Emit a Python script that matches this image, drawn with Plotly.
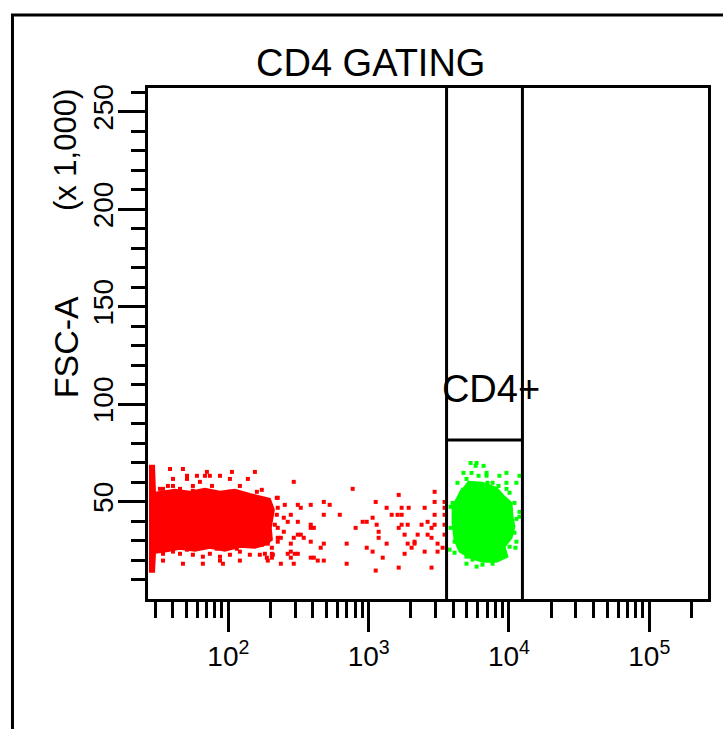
import plotly.graph_objects as go

# ---------------- data (x: log10 CD4 intensity, y: FSC-A in thousands) ----------------
# dense core outlines of the two populations
red_core_log = [1.434, 1.470, 1.477, 1.619, 1.726, 1.833, 1.940, 2.046, 2.153, 2.238, 2.295, 2.324,
                2.302, 2.310, 2.260, 2.189, 2.082, 1.975, 1.868, 1.762, 1.655, 1.548, 1.477, 1.470, 1.434]
red_core_fsc = [68.3, 68.3, 54.5, 56.0, 55.0, 56.5, 55.0, 56.0, 53.9, 52.4, 51.4, 45.8,
                36.5, 30.4, 27.8, 26.3, 26.8, 24.8, 26.3, 24.8, 25.8, 24.3, 23.7, 14.0, 14.0]

green_core_log = [3.704, 3.811, 3.911, 3.968, 4.018, 4.025, 4.039, 4.018, 3.968, 3.989, 3.911, 3.811,
                  3.719, 3.648, 3.612, 3.598, 3.598, 3.633, 3.669]
green_core_fsc = [60.1, 59.6, 57.0, 52.4, 49.3, 42.2, 37.1, 31.4, 26.8, 21.7, 19.1, 19.1,
                  21.2, 24.3, 30.4, 39.1, 47.3, 52.4, 57.0]

# individual events outside the dense cores
red_pts_log = [1.584, 1.676, 1.847, 1.705, 1.776, 1.833, 1.868, 1.940, 2.025, 2.189, 1.605, 1.705,
               1.797, 2.011, 2.139, 1.569, 1.605, 1.747, 1.883, 2.082, 1.534, 1.655, 1.747, 2.004,
               2.060, 2.203, 2.345, 1.512, 2.238,
               1.534, 1.605, 1.655, 1.747, 1.818, 1.868, 1.940, 2.011, 2.082, 2.153, 2.224, 2.274,
               1.534, 1.676, 1.818, 1.940, 1.961, 2.082, 2.281, 2.317, 2.238, 2.060, 1.918, 1.705,
               1.562, 1.491,
               2.466, 2.886, 2.352, 2.402, 2.495, 2.587, 2.680, 2.722, 2.352, 2.516, 3.050, 3.128,
               3.235, 3.285, 3.399, 3.470, 3.214, 3.470, 3.541, 3.541, 2.345, 2.445, 2.680, 2.794,
               3.028, 3.164, 3.206, 3.235, 3.470, 3.541, 2.395, 2.423, 2.495, 2.957, 2.986, 3.420,
               2.331, 2.587, 3.057, 3.235, 3.278, 3.377, 3.470, 3.541, 2.352, 2.587, 2.609, 2.907,
               3.214, 3.448, 2.395, 3.071, 2.495, 2.516, 3.256, 3.349, 3.420, 3.541, 2.352, 2.374,
               2.466, 2.537, 3.071, 3.448, 2.352, 2.587, 3.327, 2.281, 2.445, 2.680, 2.843, 3.128,
               3.278, 3.327, 3.491, 2.310, 2.658, 2.986, 3.306, 3.527, 2.445, 3.028, 3.399, 3.491,
               2.260, 2.310, 2.423, 2.473, 2.495, 3.256, 2.310, 2.445, 2.587, 2.609, 3.100, 2.637,
               2.680, 2.374, 2.466, 2.843, 3.214, 3.448, 3.050]
red_pts_fsc = [66.7, 66.7, 65.2, 63.2, 63.2, 63.2, 63.2, 63.2, 65.2, 65.2, 61.6, 61.6,
               60.1, 61.6, 61.6, 58.0, 58.0, 58.0, 58.0, 58.0, 56.5, 56.5, 55.5, 55.0,
               55.0, 55.0, 51.9, 56.5, 56.0,
               23.2, 24.3, 23.2, 22.7, 21.7, 23.2, 21.7, 22.7, 24.3, 22.7, 22.7, 21.2,
               19.7, 18.1, 18.1, 19.7, 18.1, 19.7, 19.7, 22.7, 27.8, 25.8, 25.8, 25.3,
               25.3, 27.8,
               60.1, 56.5, 51.9, 48.3, 48.3, 48.3, 49.8, 48.3, 46.8, 46.8, 49.8, 46.8,
               46.8, 46.8, 46.8, 55.0, 53.4, 49.8, 49.8, 46.8, 43.2, 43.2, 43.2, 43.2,
               41.7, 43.2, 43.2, 43.2, 43.2, 43.2, 41.7, 39.6, 39.6, 39.6, 39.6, 39.6,
               38.1, 38.1, 38.1, 38.1, 38.1, 38.1, 38.1, 38.1, 36.5, 36.5, 36.5, 36.5,
               36.5, 36.5, 34.5, 34.5, 33.0, 33.0, 33.0, 33.0, 33.0, 33.0, 31.4, 31.4,
               31.4, 31.4, 31.4, 31.4, 29.4, 29.4, 29.4, 28.4, 28.4, 28.4, 28.4, 28.4,
               28.4, 28.4, 28.4, 26.3, 26.3, 26.3, 26.3, 26.3, 24.3, 24.3, 24.3, 24.3,
               23.2, 23.2, 23.2, 23.2, 23.2, 23.2, 21.2, 21.2, 21.2, 21.2, 21.2, 19.7,
               19.7, 18.1, 18.1, 18.1, 16.1, 16.1, 14.6]

green_pts_log = [3.726, 3.769, 3.762, 3.819, 3.676, 3.733, 3.840, 3.783, 3.840, 3.982, 4.075, 3.697,
                 3.932, 3.633, 3.847, 3.883, 3.982, 4.053, 3.925, 3.662, 3.982, 4.004, 3.598, 3.584,
                 4.039, 4.075, 4.075, 4.053, 3.584, 4.039, 3.612, 4.053, 4.004, 4.046, 3.612, 3.697,
                 3.740, 3.769, 3.697, 3.811, 3.883, 3.954, 3.577]
green_pts_fsc = [69.8, 69.8, 68.3, 68.3, 64.7, 64.7, 64.7, 63.2, 63.2, 64.7, 63.2, 61.6,
                 63.2, 59.6, 59.6, 59.6, 59.6, 59.6, 58.0, 54.5, 56.5, 54.5, 49.3, 47.3,
                 49.3, 44.7, 42.2, 41.1, 36.5, 34.0, 29.4, 29.4, 26.8, 26.3, 23.7, 21.7,
                 20.2, 16.6, 18.1, 17.6, 18.1, 21.7, 25.3]

# gate definition (CD4 intensity, FSC-A x1000)
gate_cd4_low = 3590
gate_cd4_high = 12470
gate_fsc_low = 81.6
gate_label = "CD4+"
gate_label_cd4 = 7450
gate_label_fsc = 106.0

# axes
x_range_log = [1.427, 5.4186]
y_range = [0, 262.144]
x_tick_vals = [100, 1000, 10000, 100000]
x_tick_text = ["10<sup>2</sup>", "10<sup>3</sup>", "10<sup>4</sup>", "10<sup>5</sup>"]
x_minor_vals = [m * d for d in (10, 100, 1000, 10000, 100000) for m in range(2, 10)]
y_tick_vals = [50, 100, 150, 200, 250]
y_tick_text = ["50", "100", "150", "200", "250"]
y_minor_vals = list(range(10, 270, 10))

RED = "#ff0000"
GREEN = "#00ff00"
FONT = "Liberation Sans, Arial, sans-serif"

fig = go.Figure()

def lin(vals):
    return [10 ** v for v in vals]

fig.add_trace(go.Scatter(x=lin(red_core_log), y=red_core_fsc, mode="lines", fill="toself",
                         fillcolor=RED, line=dict(color=RED, width=2), hoverinfo="skip"))
fig.add_trace(go.Scatter(x=lin(red_pts_log), y=red_pts_fsc, mode="markers",
                         marker=dict(symbol="square", size=4, color=RED, line=dict(width=0))))
fig.add_trace(go.Scatter(x=lin(green_core_log), y=green_core_fsc, mode="lines", fill="toself",
                         fillcolor=GREEN, line=dict(color=GREEN, width=2), hoverinfo="skip"))
fig.add_trace(go.Scatter(x=lin(green_pts_log), y=green_pts_fsc, mode="markers",
                         marker=dict(symbol="square", size=4, color=GREEN, line=dict(width=0))))

# gate lines
gate_line = dict(color="black", width=3)
fig.add_trace(go.Scatter(x=[gate_cd4_low, gate_cd4_low], y=y_range, mode="lines", line=gate_line))
fig.add_trace(go.Scatter(x=[gate_cd4_high, gate_cd4_high], y=y_range, mode="lines", line=gate_line))
fig.add_trace(go.Scatter(x=[gate_cd4_low, gate_cd4_high], y=[gate_fsc_low, gate_fsc_low],
                         mode="lines", line=gate_line))
fig.add_trace(go.Scatter(x=[gate_label_cd4], y=[gate_label_fsc], mode="text", text=[gate_label],
                         textfont=dict(family=FONT, size=38, color="black"), textposition="middle center"))

fig.update_layout(
    width=723, height=729, autosize=False,
    margin=dict(l=148, r=13, t=88, b=130),
    paper_bgcolor="white", plot_bgcolor="white",
    showlegend=False,
    font=dict(family=FONT, color="black"),
    xaxis=dict(type="log", range=x_range_log, showgrid=False, zeroline=False,
               showline=True, mirror=True, linecolor="black", linewidth=3,
               tickmode="array", tickvals=x_tick_vals, ticktext=x_tick_text,
               ticks="outside", ticklen=30, tickwidth=3, tickcolor="black",
               tickfont=dict(family=FONT, size=28, color="black"),
               minor=dict(tickmode="array", tickvals=x_minor_vals, ticks="outside",
                          ticklen=16, tickwidth=3, tickcolor="black", showgrid=False)),
    yaxis=dict(range=y_range, showgrid=False, zeroline=False,
               showline=True, mirror=True, linecolor="black", linewidth=3,
               tickmode="array", tickvals=y_tick_vals, ticktext=y_tick_text, tickangle=-90,
               ticks="outside", ticklen=27, tickwidth=3, tickcolor="black",
               ticklabelstandoff=-6,
               tickfont=dict(family=FONT, size=28, color="black"),
               minor=dict(tickmode="array", tickvals=y_minor_vals, ticks="outside",
                          ticklen=14, tickwidth=3, tickcolor="black", showgrid=False)),
    annotations=[
        dict(text="CD4 GATING", xref="paper", yref="paper", x=0.397, y=1.049,
             showarrow=False, font=dict(family=FONT, size=38, color="black"),
             xanchor="center", yanchor="middle"),
        dict(text="FSC-A", xref="paper", yref="paper", x=-0.146, y=0.493, textangle=-90,
             showarrow=False, font=dict(family=FONT, size=34, color="black"),
             xanchor="center", yanchor="middle"),
        dict(text="(x 1,000)", xref="paper", yref="paper", x=-0.146, y=0.879, textangle=-90,
             showarrow=False, font=dict(family=FONT, size=31, color="black"),
             xanchor="center", yanchor="middle"),
    ],
    shapes=[
        dict(type="rect", xref="paper", yref="paper", x0=-0.242, x1=1.1, y0=-0.35, y1=1.1429,
             line=dict(color="black", width=3), fillcolor="rgba(0,0,0,0)", layer="above"),
    ],
)

fig.write_html("out.html")
